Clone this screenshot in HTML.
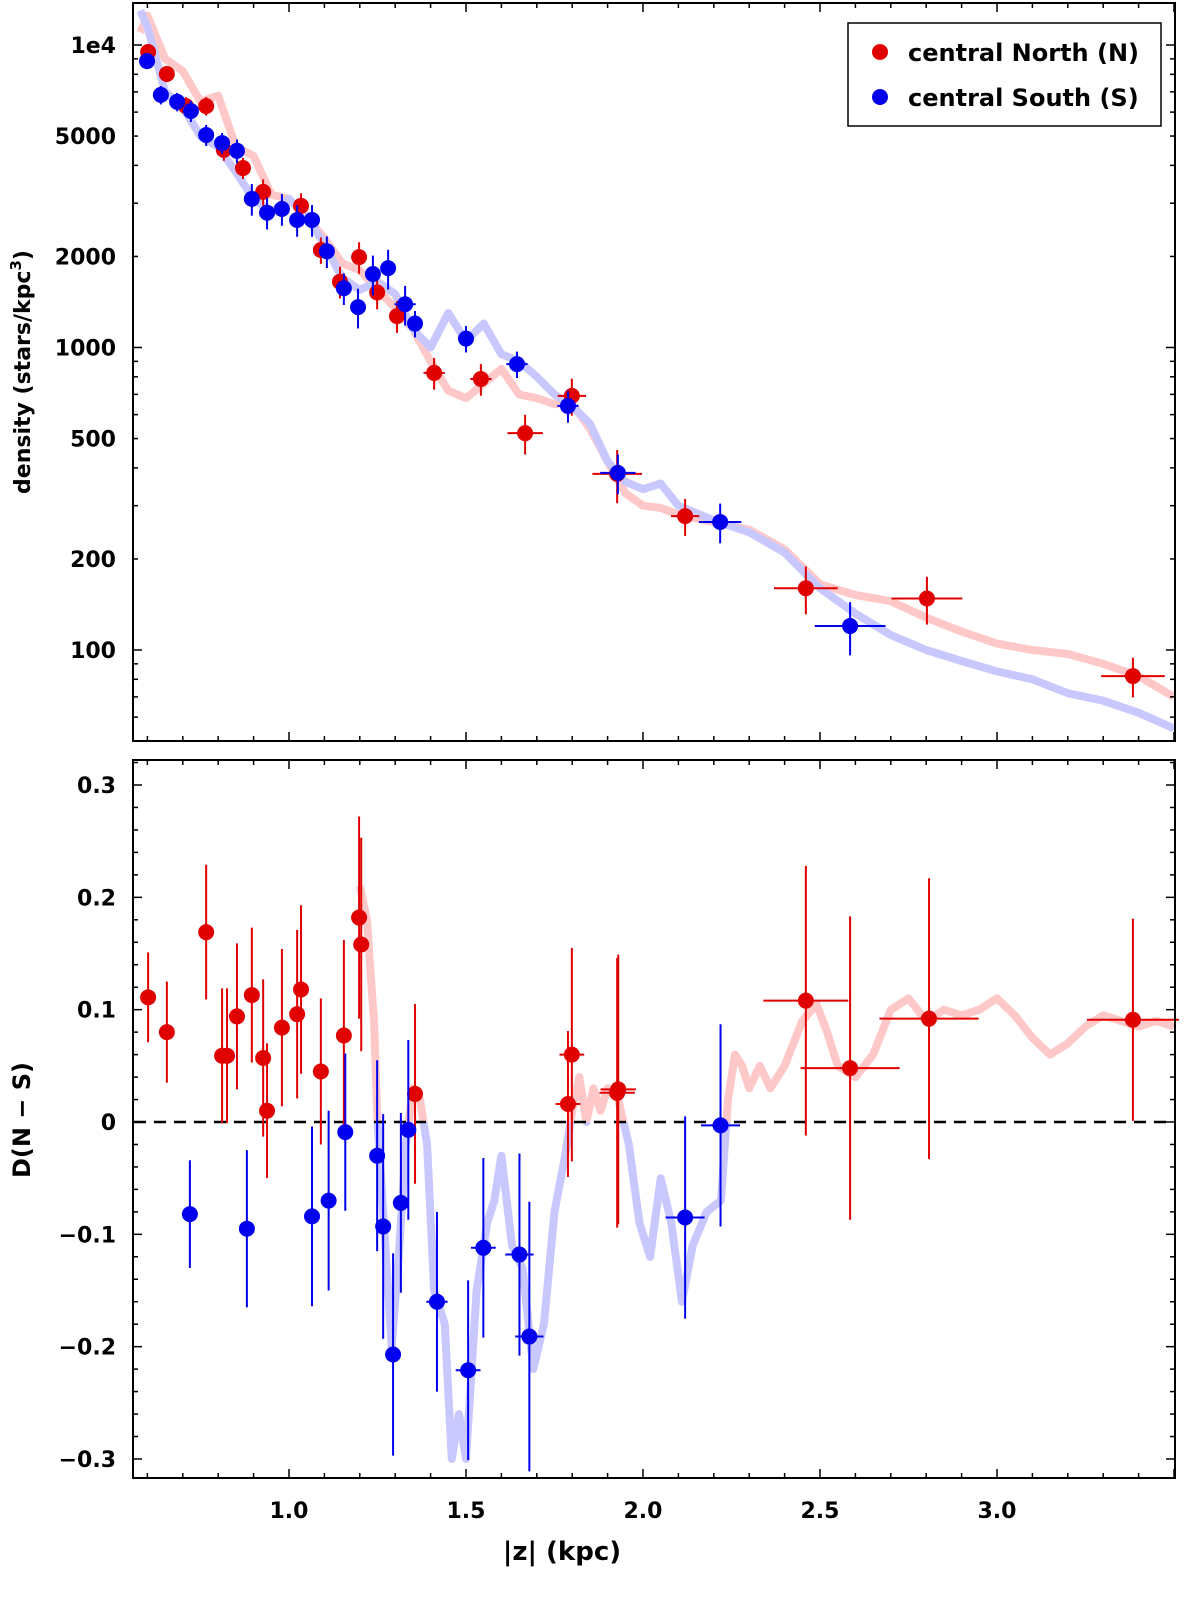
<!DOCTYPE html>
<html><head><meta charset="utf-8">
<style>
html,body{margin:0;padding:0;background:#fff;width:1200px;height:1597px;overflow:hidden;}
svg{display:block;position:absolute;left:0;top:0;font-family:"DejaVu Sans","Liberation Sans",sans-serif;}
.tl{font-size:22px;font-weight:bold;fill:#000;}
</style></head>
<body>
<svg id="chart" width="1200" height="1597" viewBox="0 0 1200 1597" xmlns="http://www.w3.org/2000/svg">
<defs>
<clipPath id="clipTop"><rect x="134" y="4" width="1040" height="736"/></clipPath>
<clipPath id="clipPos"><rect x="134" y="761" width="1040" height="361"/></clipPath>
<clipPath id="clipNeg"><rect x="134" y="1122" width="1040" height="355"/></clipPath>
</defs>
<g id="top-curves" clip-path="url(#clipTop)"></g>
<g id="top-points"></g>
<g id="bot-curves"></g>
<line x1="134" y1="1122" x2="1174" y2="1122" stroke="#000" stroke-width="2.5" stroke-dasharray="12,8"/>
<g id="bot-points"></g>
<g id="axes"></g>
<rect x="133" y="3" width="1042" height="738" fill="none" stroke="#000" stroke-width="2"/>
<rect x="133" y="760" width="1042" height="718" fill="none" stroke="#000" stroke-width="2"/>
<g>
<rect x="848" y="23" width="313" height="103" fill="#fff" stroke="#000" stroke-width="1.5"/>
<circle cx="880" cy="52" r="8" fill="#e00000"/>
<text x="908" y="61" font-size="24" font-weight="bold">central North (N)</text>
<circle cx="880" cy="97" r="8" fill="#0000ee"/>
<text x="908" y="106" font-size="24" font-weight="bold">central South (S)</text>
</g>
<text transform="translate(30,372) rotate(-90)" text-anchor="middle" font-size="22" font-weight="bold">density (stars/kpc<tspan dy="-9" font-size="15">3</tspan><tspan dy="9">)</tspan></text>
<text transform="translate(30,1120) rotate(-90)" text-anchor="middle" font-size="24" font-weight="bold">D(N − S)</text>
<text x="562" y="1560" text-anchor="middle" font-size="26" font-weight="bold">|z| (kpc)</text>
</svg>
<script>
// ---- data ----
const northZ = [0.602,0.655,0.709,0.766,0.816,0.870,0.927,1.034,1.090,1.144,1.198,1.249,1.305,1.410,1.542,1.667,1.799,1.927,2.119,2.460,2.802,3.384];
const northDensity = [9480,8020,6280,6280,4500,3920,3270,2940,2100,1650,1990,1520,1270,824,787,521,692,382,277,160,148,82];
const northXErr = [0.005,0.005,0.005,0.005,0.005,0.005,0.01,0.01,0.01,0.015,0.015,0.015,0.02,0.03,0.03,0.05,0.04,0.07,0.04,0.09,0.1,0.09];
const northYErrFrac = [0.06,0.06,0.07,0.07,0.08,0.08,0.1,0.1,0.1,0.12,0.12,0.12,0.12,0.12,0.12,0.15,0.14,0.2,0.14,0.18,0.18,0.15];
const southZ = [0.599,0.638,0.684,0.723,0.766,0.811,0.853,0.895,0.938,0.980,1.023,1.065,1.107,1.155,1.195,1.237,1.280,1.328,1.356,1.500,1.644,1.788,1.929,2.218,2.585];
const southDensity = [8850,6840,6490,6050,5040,4740,4470,3100,2790,2870,2640,2640,2080,1570,1360,1750,1830,1390,1200,1070,881,641,385,265,120];
const southXErr = [0.005,0.005,0.005,0.005,0.005,0.005,0.01,0.01,0.01,0.01,0.015,0.015,0.015,0.02,0.02,0.02,0.02,0.03,0.02,0.02,0.03,0.03,0.05,0.06,0.1];
const southYErrFrac = [0.06,0.07,0.07,0.08,0.08,0.08,0.09,0.12,0.12,0.12,0.12,0.12,0.12,0.12,0.15,0.15,0.15,0.15,0.1,0.1,0.1,0.12,0.15,0.15,0.2];
const curveZ = [0.58,0.6,0.65,0.7,0.75,0.8,0.85,0.9,0.95,1.0,1.05,1.1,1.15,1.2,1.25,1.3,1.35,1.4,1.45,1.5,1.55,1.6,1.65,1.7,1.75,1.8,1.85,1.9,1.95,2.0,2.05,2.1,2.2,2.3,2.4,2.5,2.6,2.7,2.8,2.9,3.0,3.1,3.2,3.3,3.4,3.5];
const northCurve = [11000,12500,9000,8200,6500,6800,4600,4300,3200,3100,2700,2300,1900,1800,1550,1350,1150,900,720,680,760,850,700,680,650,650,540,420,330,300,295,280,265,250,215,165,152,145,128,115,105,100,97,90,82,70];
const southCurve = [13000,11500,7000,6200,5000,4600,3800,3100,2800,3100,2700,2200,1700,1550,1650,1500,1150,1000,1300,1050,1200,950,900,800,700,640,560,420,360,340,355,300,268,245,210,160,132,112,100,92,85,80,72,68,62,55];

const diffNorthZ = [0.602,0.655,0.766,0.811,0.825,0.853,0.895,0.927,0.938,0.980,1.023,1.034,1.090,1.155,1.198,1.204,1.356,1.799,1.788,1.927,1.930,2.460,2.585,2.808,3.384];
const diffNorthD = [0.111,0.080,0.169,0.059,0.059,0.094,0.113,0.057,0.010,0.084,0.096,0.118,0.045,0.077,0.182,0.158,0.025,0.060,0.016,0.026,0.029,0.108,0.048,0.092,0.091];
const diffNorthErr = [0.04,0.045,0.06,0.06,0.06,0.065,0.06,0.07,0.06,0.07,0.075,0.075,0.065,0.085,0.09,0.095,0.08,0.095,0.065,0.12,0.12,0.12,0.135,0.125,0.09];
const diffNorthXErr = [0.005,0.005,0.005,0.005,0.005,0.01,0.01,0.01,0.01,0.015,0.01,0.015,0.015,0.015,0.015,0.015,0.02,0.035,0.035,0.05,0.05,0.12,0.14,0.14,0.13];
const diffSouthZ = [0.720,0.881,1.065,1.112,1.159,1.249,1.266,1.294,1.316,1.337,1.418,1.506,1.549,1.651,1.679,2.119,2.219];
const diffSouthD = [-0.082,-0.095,-0.084,-0.070,-0.009,-0.030,-0.093,-0.207,-0.072,-0.007,-0.160,-0.221,-0.112,-0.118,-0.191,-0.085,-0.003];
const diffSouthErr = [0.048,0.07,0.08,0.08,0.07,0.085,0.1,0.09,0.08,0.08,0.08,0.08,0.08,0.09,0.12,0.09,0.09];
const diffSouthXErr = [0.005,0.01,0.015,0.02,0.02,0.015,0.02,0.015,0.02,0.02,0.03,0.035,0.035,0.04,0.04,0.055,0.055];
const diffCurveZ = [1.20,1.22,1.24,1.25,1.27,1.29,1.31,1.33,1.35,1.37,1.39,1.41,1.44,1.46,1.48,1.50,1.53,1.56,1.58,1.60,1.63,1.66,1.69,1.72,1.75,1.78,1.80,1.82,1.84,1.86,1.88,1.90,1.93,1.96,1.99,2.02,2.05,2.08,2.11,2.14,2.18,2.22,2.24,2.26,2.28,2.30,2.33,2.36,2.40,2.45,2.49,2.52,2.55,2.60,2.65,2.70,2.75,2.80,2.85,2.90,2.95,3.00,3.05,3.10,3.15,3.20,3.25,3.30,3.35,3.40,3.45,3.50];
const diffCurveD = [0.21,0.18,0.09,0.0,-0.10,-0.20,-0.12,-0.02,0.03,0.02,-0.02,-0.15,-0.18,-0.30,-0.26,-0.30,-0.15,-0.09,-0.07,-0.03,-0.11,-0.13,-0.22,-0.18,-0.08,-0.03,0.01,0.04,0.0,0.03,0.01,0.03,0.02,-0.02,-0.09,-0.12,-0.05,-0.09,-0.16,-0.11,-0.08,-0.07,0.02,0.06,0.05,0.03,0.05,0.03,0.05,0.09,0.105,0.08,0.05,0.04,0.06,0.10,0.11,0.09,0.10,0.095,0.10,0.11,0.095,0.075,0.06,0.07,0.085,0.095,0.09,0.085,0.09,0.085];

const topTicks = [10000,5000,2000,1000,500,200,100];
const topTickLabels = ["1e4","5000","2000","1000","500","200","100"];
const botTicks = [0.3,0.2,0.1,0,-0.1,-0.2,-0.3];
const botTickLabels = ["0.3","0.2","0.1","0","\u22120.1","\u22120.2","\u22120.3"];
const xTicks = [1.0,1.5,2.0,2.5,3.0];
const xTickLabels = ["1.0","1.5","2.0","2.5","3.0"];

// ---- scales ----
const X = z => 289 + (z - 1) * 354;
const YT = v => 45 + (4 - Math.log10(v)) * 302.5;
const YB = d => 1122 - d * 1123.3;
const NS = "http://www.w3.org/2000/svg";
function mk(tag, attrs, parent){ const e=document.createElementNS(NS,tag); for(const k in attrs) e.setAttribute(k,attrs[k]); parent.appendChild(e); return e; }
const g = id => document.getElementById(id);

function poly(zs, vs, fy){ return zs.map((z,i)=>X(z).toFixed(1)+","+fy(vs[i]).toFixed(1)).join(" "); }

let pl = mk('polyline',{points:poly(curveZ,northCurve,YT),fill:'none',stroke:'#ffc8c8','stroke-width':8,'stroke-linejoin':'round'},g('top-curves'));


pl = mk('polyline',{points:poly(curveZ,southCurve,YT),fill:'none',stroke:'#c8c8ff','stroke-width':8,'stroke-linejoin':'round'},g('top-curves'));



pl = mk('polyline',{points:poly(diffCurveZ,diffCurveD,YB),fill:'none',stroke:'#ffc8c8','stroke-width':8,'stroke-linejoin':'round','clip-path':'url(#clipPos)'},g('bot-curves'));


pl = mk('polyline',{points:poly(diffCurveZ,diffCurveD,YB),fill:'none',stroke:'#c8c8ff','stroke-width':8,'stroke-linejoin':'round','clip-path':'url(#clipNeg)'},g('bot-curves'));



function pointsTop(zs, vs, xe, ye, color, name){
  zs.forEach((z,i)=>{
    const gg = mk('g',{},g('top-points'));
    
    
    const cx=X(z), cy=YT(vs[i]);
    mk('line',{x1:X(z-xe[i]),x2:X(z+xe[i]),y1:cy,y2:cy,stroke:color,'stroke-width':2},gg);
    mk('line',{x1:cx,x2:cx,y1:YT(vs[i]*(1+ye[i])),y2:YT(vs[i]*(1-ye[i])),stroke:color,'stroke-width':2},gg);
    mk('circle',{cx:cx,cy:cy,r:8,fill:color},gg);
  });
}
function pointsBot(zs, ds, ye, xe, color, name){
  zs.forEach((z,i)=>{
    const gg = mk('g',{},g('bot-points'));
    
    
    const cx=X(z), cy=YB(ds[i]);
    mk('line',{x1:X(z-xe[i]),x2:X(z+xe[i]),y1:cy,y2:cy,stroke:color,'stroke-width':2},gg);
    mk('line',{x1:cx,x2:cx,y1:YB(ds[i]+ye[i]),y2:YB(ds[i]-ye[i]),stroke:color,'stroke-width':2},gg);
    mk('circle',{cx:cx,cy:cy,r:8,fill:color},gg);
  });
}
pointsTop(northZ,northDensity,northXErr,northYErrFrac,'#e00000','north-density-point');
pointsTop(southZ,southDensity,southXErr,southYErrFrac,'#0000ee','south-density-point');
pointsBot(diffNorthZ,diffNorthD,diffNorthErr,diffNorthXErr,'#e00000','north-difference-point');
pointsBot(diffSouthZ,diffSouthD,diffSouthErr,diffSouthXErr,'#0000ee','south-difference-point');

const ax = g('axes');
function tick(x1,y1,x2,y2){ mk('line',{x1,y1,x2,y2,stroke:'#000','stroke-width':1.5},ax); }
function label(txt,x,y,anchor,name){ const t=mk('text',{x,y,'text-anchor':anchor,class:'tl'},ax); t.textContent=txt;   }
for(let k=6;k<=35;k++){
  const z=k/10, x=X(z); const major = (k%5===0);
  const L = major?9:5;
  tick(x,741,x,741-L); tick(x,3,x,3+L);
  tick(x,1478,x,1478-L); tick(x,760,x,760+L);
}
xTicks.forEach((z,i)=>label(xTickLabels[i],X(z),1518,'middle','x-tick-label'));
for(let d=1; d<=4; d++){
  for(let m=1;m<=9;m++){
    const v=m*Math.pow(10,d); const y=YT(v);
    if(y<4||y>740) continue;
    const L = (m===1)?9:5;
    tick(133,y,133+L,y); tick(1175,y,1175-L,y);
  }
}
topTicks.forEach((v,i)=>label(topTickLabels[i],116,YT(v)+8,'end','top-y-tick-label'));
for(let k=-31;k<=32;k++){
  const d=k/100; const y=YB(d);
  if(y<761||y>1477) continue;
  if(k%2!==0 && k%10!==0) continue;
  const major=(k%10===0); const L=major?9:5;
  tick(133,y,133+L,y); tick(1175,y,1175-L,y);
}
botTicks.forEach((d,i)=>label(botTickLabels[i],116,YB(d)+8,'end','bottom-y-tick-label'));
</script>
</body></html>
